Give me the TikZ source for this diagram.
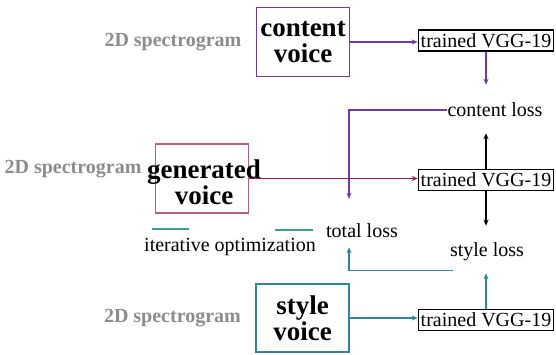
\documentclass[tikz,border=0pt]{standalone}
\usepackage{fontspec}
\setmainfont{Liberation Serif}
\newfontfamily\timesfont{Liberation Serif}
\usetikzlibrary{positioning,arrows.meta}

\definecolor{contentcol}{RGB}{112,58,160}
\definecolor{genboxcol}{RGB}{176,96,128}
\definecolor{gencol}{RGB}{140,32,84}
\definecolor{stylecol}{RGB}{52,132,152}
\definecolor{optcol}{RGB}{64,160,140}
\definecolor{specgray}{RGB}{140,140,140}

\begin{document}
\begin{tikzpicture}[x=1pt,y=-1pt]
    \tikzset{myarrow/.style={-{Stealth[length=6pt,width=5pt]}, line width=1.2pt},
             voicebox/.style={draw, line width=1.3pt, minimum width=93pt, minimum height=69pt, inner sep=0pt},
             voicetext/.style={font=\timesfont\fontsize{27}{26}\selectfont\bfseries, align=center},
             specnode/.style={text=specgray, font=\timesfont\fontsize{20}{20}\selectfont\bfseries},
             vggnode/.style={draw, line width=1.1pt, inner xsep=2.5pt, inner ysep=0pt, minimum height=21pt, font=\timesfont\fontsize{20}{20}\selectfont},
             lossnode/.style={inner sep=0pt, font=\timesfont\fontsize{20}{20}\selectfont}}
    \useasboundingbox (0,0) rectangle (556,354);

    \draw node[voicebox, draw=contentcol, voicetext] (content) at (303,42) {content\\voice};
    \draw node[voicebox, draw=genboxcol] (genbox) at (202,178.5) {};
    \draw node[voicetext] (gen) at (204,182) {generated\\voice};
    \draw node[voicebox, draw=stylecol, minimum height=68pt, voicetext] (style) at (302.5,318) {style\\voice};

    \draw node[specnode, left=11pt of content] (spec1) {2D spectrogram};
    \draw node[specnode] (spec2) at (73,169) {2D spectrogram};
    \draw node[specnode, left=11pt of style] (spec3) {2D spectrogram};

    \draw node[vggnode] (vgg1) at (486,40.5) {trained VGG-19};
    \draw node[vggnode] (vgg2) at (486,180) {trained VGG-19};
    \draw node[vggnode] (vgg3) at (486,320) {trained VGG-19};

    \draw node[lossnode] (closs) at (495,110) {content loss};
    \draw node[lossnode] (sloss) at (487,252) {style loss};
    \draw node[lossnode] (total) at (362,231) {total loss};
    \draw node[lossnode] (iter) at (230,247) {iterative optimization};

    \draw[myarrow, contentcol] (content.east) -- (content.east -| vgg1.west);
    \draw[myarrow, contentcol, shorten >=18pt] (vgg1.south) -- (vgg1.south |- closs.north);
    \draw[myarrow, contentcol, shorten >=25pt] (closs.west) -| ([xshift=-13pt]total.north);
    \draw[myarrow, gencol] (genbox.east) -- (genbox.east -| vgg2.west);
    \draw[myarrow, black, shorten >=16pt] (vgg2.north) -- (vgg2.north |- closs.south);
    \draw[myarrow, black, shorten >=17pt] (vgg2.south) -- (vgg2.south |- sloss.north);
    \draw[myarrow, stylecol] (style.east) -- (style.east -| vgg3.west);
    \draw[myarrow, stylecol, shorten >=12pt] (vgg3.north) -- (vgg3.north |- sloss.south);
    \draw[myarrow, stylecol, shorten >=9pt] ([shift={(3pt,-9pt)}]sloss.south west) -| ([xshift=-13pt]total.south);

    \draw[optcol, line width=1.2pt] ([shift={(8pt,9pt)}]iter.north west) -- ++(37,0);
    \draw[optcol, line width=1.2pt] ([shift={(-41pt,8pt)}]iter.north east) -- ++(38,0);
  \end{tikzpicture}
\end{document}
